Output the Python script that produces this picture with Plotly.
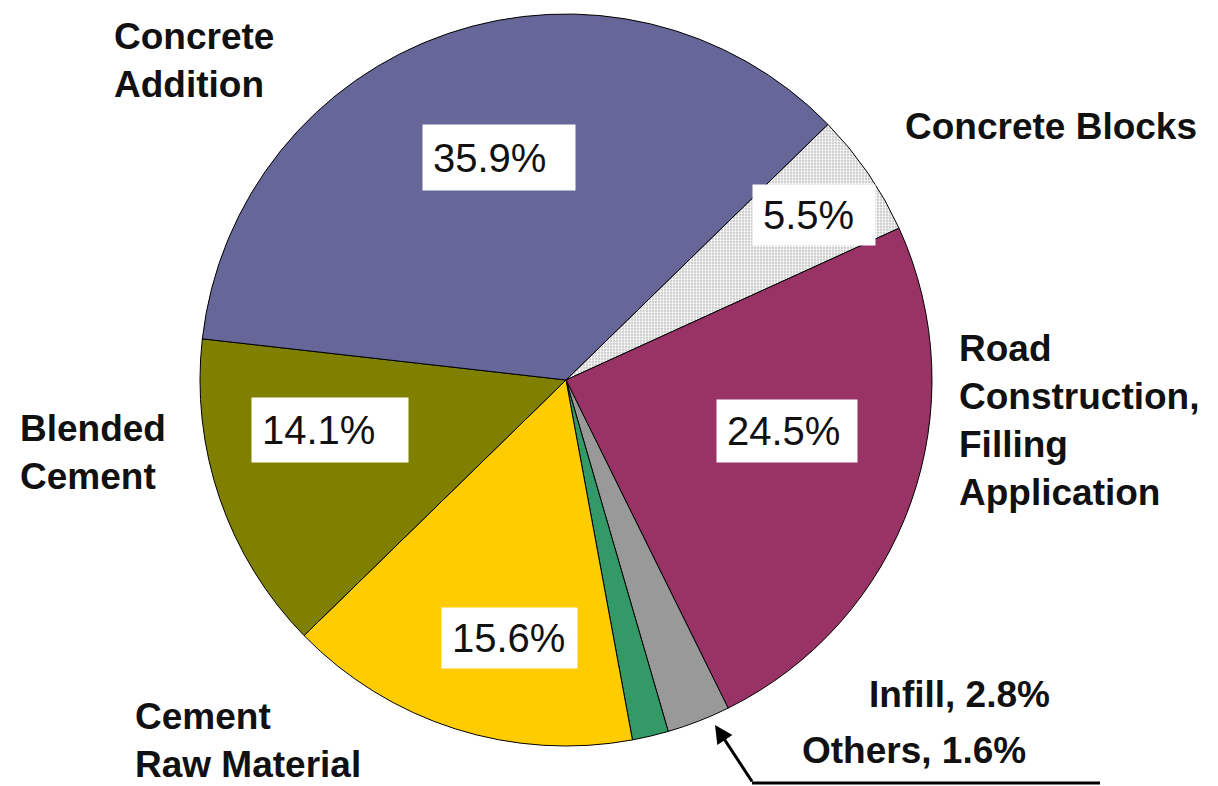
import plotly.graph_objects as go

W, H = 1218, 786
OFF = 8  # page body margin

categories = ["Concrete Blocks", "Road Construction, Filling Application", "Infill",
              "Others", "Cement Raw Material", "Blended Cement", "Concrete Addition"]
shares = [5.5, 24.5, 2.8, 1.6, 15.6, 14.1, 35.9]
colors = ["#d9d9d9", "#993366", "#999999", "#339966", "#ffcc00", "#808000", "#666699"]

outer_labels = ["Concrete<br>Addition", "Concrete Blocks", "Road<br>Construction,<br>Filling<br>Application",
                "Blended<br>Cement", "Cement<br>Raw Material", "Infill, 2.8%", "Others, 1.6%"]
pct_labels = ["35.9%", "5.5%", "24.5%", "14.1%", "15.6%"]

def px(x):
    return (x - OFF) / W

def py(y):
    return 1 - (y - OFF) / H

fig = go.Figure()
fig.add_trace(go.Pie(
    labels=categories, values=shares, sort=False, direction="clockwise",
    rotation=45.7, textinfo="none", showlegend=False, hole=0,
    marker=dict(colors=colors, line=dict(color="#000000", width=1),
                pattern=dict(shape=[".", "", "", "", "", "", ""], fgcolor="#ffffff",
                             bgcolor="#c8c8c8", size=3, solidity=0.45)),
    domain=dict(x=[px(200), px(932)], y=[py(746), py(14)]),
))

lab_font = dict(family="Liberation Sans, Arial, sans-serif", size=37, color="#111111")
# outer labels: (left x px, center y px)
outer_pos = [(112, 60), (903, 126), (957, 420), (18, 452), (133, 740), (867, 694), (800, 750)]
for t, (x, y) in zip(outer_labels, outer_pos):
    fig.add_annotation(x=px(x), y=py(y), xref="paper", yref="paper", text="<b>" + t + "</b>",
                       showarrow=False, xanchor="left", yanchor="middle", align="left",
                       font=lab_font)

pct_font = dict(family="Liberation Sans, Arial, sans-serif", size=40, color="#111111")
# boxes: (left, top, right, bottom) in px
pct_boxes = [(423, 125, 575, 190), (753, 185, 875, 245), (717, 400, 857, 462),
             (252, 398, 408, 462), (442, 608, 577, 668)]
for t, (l, tp, r, b) in zip(pct_labels, pct_boxes):
    fig.add_annotation(x=px((l + r) / 2), y=py((tp + b) / 2), xref="paper", yref="paper",
                       text=t, showarrow=False, xanchor="center", yanchor="middle",
                       align="left", width=(r - l) - 20, height=(b - tp) - 20, borderpad=10,
                       bgcolor="#ffffff", font=pct_font)

# leader arrow for small slices
fig.add_annotation(x=px(715), y=py(725), xref="paper", yref="paper", text="",
                   showarrow=True, ax=38, ay=58, arrowhead=2, arrowsize=1.2,
                   arrowwidth=3, arrowcolor="#000000")
fig.add_shape(type="line", xref="paper", yref="paper", x0=px(752), x1=px(1100),
              y0=py(783), y1=py(783), line=dict(color="#000000", width=3))

fig.update_layout(width=W, height=H, margin=dict(l=0, r=0, t=0, b=0),
                  paper_bgcolor="#ffffff", plot_bgcolor="#ffffff")

fig.write_html("out.html")
